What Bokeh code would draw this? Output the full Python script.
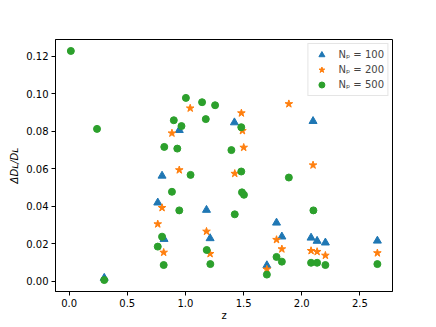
from bokeh.plotting import figure
from bokeh.models import (Range1d, FixedTicker, Legend, LegendItem,
                          NumeralTickFormatter)
from bokeh.embed import file_html
from bokeh.resources import INLINE

# ---- data ----
z_100 = [0.302, 0.762, 0.799, 0.816, 0.947, 1.181, 1.212, 1.421, 1.700,
         1.783, 1.829, 2.080, 2.097, 2.132, 2.203, 2.650]
d_100 = [0.0018, 0.0419, 0.0562, 0.0225, 0.0805, 0.0380, 0.0229, 0.0846,
         0.0085, 0.0312, 0.0238, 0.0232, 0.0853, 0.0215, 0.0206, 0.0216]

z_200 = [0.762, 0.799, 0.813, 0.884, 0.947, 1.041, 1.181, 1.212, 1.424,
         1.481, 1.490, 1.501, 1.700, 1.783, 1.829, 1.889, 2.080, 2.097,
         2.132, 2.203, 2.650]
d_200 = [0.0305, 0.0392, 0.0154, 0.0789, 0.0593, 0.0922, 0.0266, 0.0147,
         0.0574, 0.0896, 0.0802, 0.0713, 0.0064, 0.0222, 0.0172, 0.0945,
         0.0163, 0.0619, 0.0158, 0.0138, 0.0151]

z_500 = [0.015, 0.240, 0.302, 0.762, 0.799, 0.813, 0.818, 0.884, 0.900,
         0.930, 0.947, 0.966, 1.004, 1.044, 1.143, 1.175, 1.183, 1.214,
         1.255, 1.395, 1.424, 1.480, 1.480, 1.486, 1.503, 1.700, 1.783,
         1.829, 1.889, 2.080, 2.100, 2.132, 2.203, 2.650]
d_500 = [0.1227, 0.0812, 0.0007, 0.0185, 0.0238, 0.0087, 0.0716, 0.0477,
         0.0858, 0.0707, 0.0378, 0.0827, 0.0977, 0.0567, 0.0954, 0.0864,
         0.0167, 0.0092, 0.0938, 0.0699, 0.0357, 0.0585, 0.0821, 0.0474,
         0.0461, 0.0036, 0.0130, 0.0105, 0.0553, 0.0099, 0.0378, 0.0099,
         0.0087, 0.0092]

series_labels = ["N\u209a = 100", "N\u209a = 200", "N\u209a = 500"]
x_label = "z"
y_label = "\u0394D\u029f/D\u029f"
x_ticks = [0.0, 0.5, 1.0, 1.5, 2.0, 2.5]
y_ticks = [0.00, 0.02, 0.04, 0.06, 0.08, 0.10, 0.12]

FONT = "DejaVu Sans"

p = figure(width=436, height=327,
           x_range=Range1d(-0.117, 2.780), y_range=Range1d(-0.0054, 0.1288),
           output_backend="svg", toolbar_location=None,
           min_border_left=55, min_border_right=44,
           min_border_top=39, min_border_bottom=36)

p.xgrid.visible = False
p.ygrid.visible = False
p.outline_line_color = "black"
p.outline_line_width = 1
p.background_fill_color = "white"
p.border_fill_color = "white"

for ax in (p.xaxis[0], p.yaxis[0]):
    ax.axis_line_color = "black"
    ax.axis_line_width = 1
    ax.major_tick_in = 0
    ax.major_tick_out = 4
    ax.major_tick_line_color = "black"
    ax.minor_tick_in = 0
    ax.minor_tick_out = 0
    ax.major_label_text_font = FONT
    ax.major_label_text_font_size = "10px"
    ax.major_label_text_color = "black"
    ax.major_label_standoff = 3
    ax.axis_label_text_font = FONT
    ax.axis_label_text_font_size = "10px"
    ax.axis_label_text_color = "black"

p.xaxis.axis_label = x_label
p.xaxis.axis_label_text_font_style = "normal"
p.xaxis.axis_label_standoff = 0
p.yaxis.axis_label = y_label
p.yaxis.axis_label_text_font_style = "italic"
p.yaxis.axis_label_standoff = 3

p.xaxis.ticker = FixedTicker(ticks=x_ticks)
p.yaxis.ticker = FixedTicker(ticks=y_ticks)
p.xaxis.formatter = NumeralTickFormatter(format="0.0")
p.yaxis.formatter = NumeralTickFormatter(format="0.00")

r1 = p.scatter(z_100, d_100, marker="triangle", size=8,
               fill_color="#1f77b4", line_color="#1f77b4")
r2 = p.scatter(z_200, d_200, marker="star", size=8,
               fill_color="#ff7f0e", line_color="#ff7f0e")
r3 = p.scatter(z_500, d_500, marker="circle", size=7,
               fill_color="#2ca02c", line_color="#2ca02c")

legend = Legend(items=[LegendItem(label=series_labels[0], renderers=[r1]),
                       LegendItem(label=series_labels[1], renderers=[r2]),
                       LegendItem(label=series_labels[2], renderers=[r3])],
                location="top_right", margin=4, padding=3, spacing=0,
                glyph_width=20, glyph_height=15, label_height=15,
                label_standoff=7, label_text_font=FONT,
                label_text_font_size="10px",
                border_line_color="#cccccc", border_line_width=1,
                background_fill_alpha=0.8)
p.add_layout(legend)

open("out.html", "w").write(file_html(p, INLINE))
